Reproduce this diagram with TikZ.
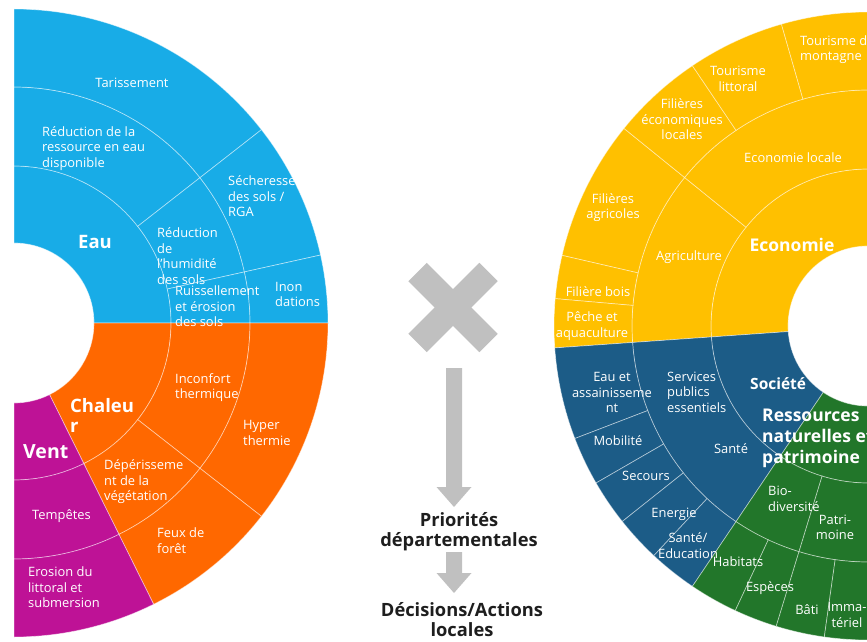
\documentclass[tikz,border=0pt]{standalone}
\usepackage{fontspec}
\setmainfont{Open Sans}
\usetikzlibrary{calc}
\definecolor{eau}{RGB}{24,172,231}
\definecolor{chal}{RGB}{255,104,0}
\definecolor{vent}{RGB}{190,18,150}
\definecolor{eco}{RGB}{255,192,0}
\definecolor{soc}{RGB}{28,92,135}
\definecolor{rnp}{RGB}{34,118,42}
\definecolor{crossgray}{RGB}{192,192,192}
\definecolor{ink}{RGB}{30,30,30}
\newcommand{\wseg}[6]{\filldraw[fill=#6,sepline] ($(#1)+(#4:#2)$) arc[start angle=#4,end angle=#5,radius=#2] -- ($(#1)+(#5:#3)$) arc[start angle=#5,end angle=#4,radius=#3] -- cycle;}
\tikzset{
  sepline/.style={draw=white,draw opacity=0.5,line width=0.7pt},
  lbl/.style={text=white,font=\fontsize{12.9}{15.5}\selectfont,inner sep=0pt,align=left,anchor=west},
  clbl/.style={text=white,font=\fontsize{12.9}{15.5}\selectfont,inner sep=0pt,align=center},
  big/.style={text=white,font=\bfseries\fontsize{18.5}{20}\selectfont,inner sep=0pt,align=left,anchor=west},
  midtxt/.style={text=ink,font=\bfseries\fontsize{18.3}{20}\selectfont,inner sep=0pt,align=center,anchor=north},
  blockarrow/.style={fill=crossgray}
}
\begin{document}
\begin{tikzpicture}[x=1pt,y=1pt]
\useasboundingbox (0,0) rectangle (867,641);
\clip (0,0) rectangle (867,641);
\coordinate (L) at (14,318);
\coordinate (R) at (868,315);
% ---------- left sunburst ----------
\wseg{L}{80}{157}{0}{90}{eau}
\wseg{L}{157}{236}{38}{90}{eau}
\wseg{L}{157}{236}{12.5}{38}{eau}
\wseg{L}{157}{236}{0}{12.5}{eau}
\wseg{L}{236}{314}{38}{90}{eau}
\wseg{L}{236}{314}{12.5}{38}{eau}
\wseg{L}{236}{314}{0}{12.5}{eau}
\wseg{L}{80}{157}{-63.6}{0}{chal}
\wseg{L}{157}{236}{-38}{0}{chal}
\wseg{L}{157}{236}{-63.6}{-38}{chal}
\wseg{L}{236}{314}{-38}{0}{chal}
\wseg{L}{236}{314}{-63.6}{-38}{chal}
\wseg{L}{80}{157}{-90}{-63.6}{vent}
\wseg{L}{157}{236}{-90}{-63.6}{vent}
\wseg{L}{236}{314}{-90}{-63.6}{vent}
% ---------- right sunburst ----------
\wseg{R}{80}{157}{80}{184}{eco}
\wseg{R}{157}{236}{141}{184}{eco}
\wseg{R}{157}{236}{80}{141}{eco}
\wseg{R}{236}{314}{141}{167}{eco}
\wseg{R}{236}{314}{167}{175}{eco}
\wseg{R}{236}{314}{175}{184}{eco}
\wseg{R}{236}{314}{124}{141}{eco}
\wseg{R}{236}{314}{106}{124}{eco}
\wseg{R}{236}{314}{80}{106}{eco}
\wseg{R}{80}{157}{184}{236}{soc}
\wseg{R}{157}{236}{184}{236}{soc}
\wseg{R}{236}{314}{184}{201}{soc}
\wseg{R}{236}{314}{201}{210}{soc}
\wseg{R}{236}{314}{210}{218.5}{soc}
\wseg{R}{236}{314}{218.5}{227}{soc}
\wseg{R}{236}{314}{227}{236}{soc}
\wseg{R}{80}{157}{236}{280}{rnp}
\wseg{R}{157}{236}{236}{253}{rnp}
\wseg{R}{157}{236}{253}{280}{rnp}
\wseg{R}{236}{314}{236}{245}{rnp}
\wseg{R}{236}{314}{245}{253}{rnp}
\wseg{R}{236}{314}{253}{262}{rnp}
\wseg{R}{236}{314}{262}{280}{rnp}
% ---------- left labels ----------
\node[clbl] (tar) at (132,558) {Tarissement};
\node[lbl] (redres) at (42,492.5) {Réduction de la\\ressource en eau\\disponible};
\node[big,anchor=center] (eau) at (95,399) {Eau};
\node[lbl] (sech) at (228,444.5) {Sécheresse\\des sols /\\RGA};
\node[lbl] (redhum) at (157,385) {Réduction\\de\\l’humidité\\des sols};
\node[lbl] (ruis) at (175,334.5) {Ruissellement\\et érosion\\des sols};
\node[lbl] (inon) at (275,346.5) {Inon\\dations};
\node[big] (chaleur) at (70,226) {Chaleu\\r};
\node[big,font=\bfseries\fontsize{19.5}{20}\selectfont] (ventl) at (23,189) {Vent};
\node[lbl] (inconf) at (175,253.5) {Inconfort\\thermique};
\node[lbl] (hyper) at (243,208) {Hyper\\thermie};
\node[lbl] (deper) at (104,159) {Dépérisseme\\nt de la\\végétation};
\node[lbl] (temp) at (32,125) {Tempêtes};
\node[lbl] (feux) at (157,100.5) {Feux de\\forêt};
\node[lbl] (eros) at (28,53.5) {Erosion du\\littoral et\\submersion};
% ---------- right labels ----------
\node[lbl] (tmont) at (800,591.5) {Tourisme de\\montagne};
\node[clbl] (tlitt) at (738,562) {Tourisme\\littoral};
\node[clbl] (fileco) at (682,521.5) {Filières\\économiques\\locales};
\node[clbl] (ecoloc) at (793,483) {Economie locale};
\node[clbl] (filagr) at (613,433.5) {Filières\\agricoles};
\node[clbl] (agri) at (689,384) {Agriculture};
\node[big,anchor=center,font=\bfseries\fontsize{17.5}{20}\selectfont] (econ) at (792,396) {Economie};
\node[clbl] (filbois) at (598,349) {Filière bois};
\node[clbl] (peche) at (592,315) {Pêche et\\aquaculture};
\node[clbl] (eauass) at (612,248.5) {Eau et\\assainisseme\\nt};
\node[lbl] (serv) at (667,249) {Services\\publics\\essentiels};
\node[big,font=\bfseries\fontsize{15.5}{20}\selectfont] (soci) at (750,257) {Société};
\node[big,font=\bfseries\fontsize{17.5}{21}\selectfont] (ress) at (762,203) {Ressources\\naturelles et\\patrimoine};
\node[clbl] (mob) at (618,200) {Mobilité};
\node[clbl] (sante) at (731,192) {Santé};
\node[clbl] (secours) at (646,165) {Secours};
\node[clbl] (energie) at (674,127) {Energie};
\node[clbl] (santed) at (688,95.5) {Santé/\\Education};
\node[lbl] (bio) at (768,142) {Bio-\\diversité};
\node[clbl] (patri) at (835,113.5) {Patri-\\moine};
\node[clbl] (habit) at (738,79) {Habitats};
\node[clbl] (especes) at (770,53) {Espèces};
\node[clbl] (bati) at (807,31) {Bâti};
\node[clbl] (immat) at (847,26) {Imma-\\tériel};
% ---------- centre ----------
\coordinate (X) at (453,333.5);
\draw[crossgray,line width=26pt] ($(X)+(-35.5,35.5)$) -- ($(X)+(35.5,-35.5)$);
\draw[crossgray,line width=26pt] ($(X)+(-35.5,-35.5)$) -- ($(X)+(35.5,35.5)$);
\fill[blockarrow] (446,273) -- (462,273) -- (462,154) -- (471.5,154) -- (454,134) -- (436.5,154) -- (446,154) -- cycle;
\node[midtxt] (prio) at (459,129) {Priorités\\départementales};
\fill[blockarrow] (446,89) -- (462,89) -- (462,68) -- (471.5,68) -- (454,48) -- (436.5,68) -- (446,68) -- cycle;
\node[midtxt] (dec) at (462,39) {Décisions/Actions\\locales};
\end{tikzpicture}
\end{document}
